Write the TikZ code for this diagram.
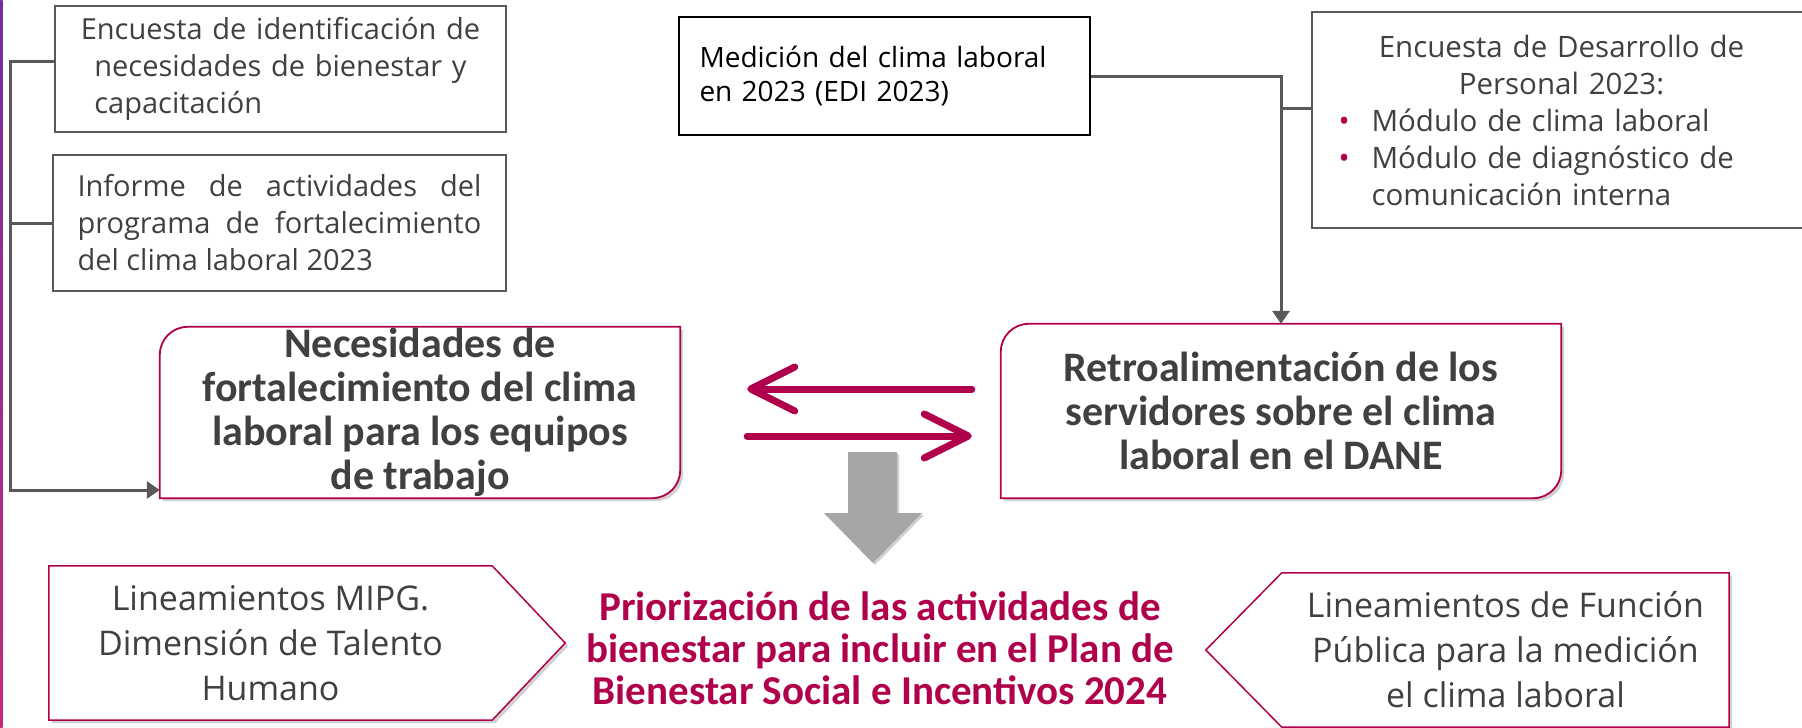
\documentclass[tikz,border=0pt]{standalone}
\usepackage{fontspec}
\usepackage{calc}
\setmainfont{Open Sans}
\newfontfamily\boldface{Carlito}
\usetikzlibrary{arrows.meta,backgrounds,shadows}
\definecolor{mag}{RGB}{176,0,76}
\definecolor{ink}{HTML}{404040}
\definecolor{wire}{HTML}{595959}
\definecolor{block}{HTML}{A6A6A6}
\definecolor{edgeviolet}{RGB}{112,48,160}
\definecolor{edgepink}{RGB}{200,40,120}
\tikzset{>/.tip={Triangle[length=13pt,width=17pt]}}

\begin{document}
\begin{tikzpicture}[x=1pt,y=-1pt,
  src/.style={draw=wire,line width=1.6pt,inner sep=0pt,text=ink,font=\fontsize{29pt}{37pt}\selectfont},
  need/.style={inner sep=0pt,text=ink,align=center,font=\boldface\bfseries\fontsize{42pt}{44pt}\selectfont},
  panel/.style={fill=white,draw=mag,line width=1.8pt,drop shadow={shadow xshift=3pt,shadow yshift=-3pt,opacity=.18,fill=black}},
  rule/.style={inner sep=0pt,text=ink,align=center,font=\fontsize{34pt}{45pt}\selectfont},
  conn/.style={draw=wire,line width=3pt},
  swap/.style={draw=mag,line width=7pt,line cap=round,-{Straight Barb[length=44pt,width=44pt,round]}}]
\useasboundingbox (0,0) rectangle (1802,728);
\clip (0,0) rectangle (1802,728);
\shade[top color=edgeviolet,bottom color=edgepink] (0,0) rectangle (2.5,728);

\node[src,minimum width=451pt,minimum height=126pt,text width=420pt,align=center] (enc) at (280.5,69)
  {Encuesta de identificación de\\necesidades de bienestar y\\\makebox[\widthof{necesidades de bienestar y}][l]{capacitación}};
\node[src,minimum width=453pt,minimum height=136pt,text width=404pt,align=justify] (inf) at (279.5,223)
  {Informe de actividades del\linebreak programa de fortalecimiento\linebreak del clima laboral 2023};
\node[src,draw=black,line width=2.5pt,text=black,minimum width=411pt,minimum height=118pt,text width=370pt,align=left,font=\fontsize{28pt}{34pt}\selectfont] (med) at (884.5,76)
  {Medición del clima laboral\\en 2023 (EDI 2023)\\[6pt]};
\node[src,draw=none,minimum width=497pt,minimum height=214pt,text width=470pt,align=left,font=\fontsize{29.5pt}{37pt}\selectfont] (dev) at (1561.5,120)
  {\makebox[\linewidth]{Encuesta de Desarrollo de}\\
   \makebox[\linewidth]{Personal 2023:}\\
   \hspace*{12pt}\makebox[33pt][l]{\textcolor{mag}{•}}Módulo de clima laboral\\
   \hspace*{12pt}\makebox[33pt][l]{\textcolor{mag}{•}}Módulo de diagnóstico de\\
   \hspace*{45pt}comunicación interna};
\draw[wire,line width=1.6pt] ([xshift=20pt]dev.north east) -- (dev.north west) -- (dev.south west) -- ([xshift=20pt]dev.south east);
\node[need,minimum width=520pt,minimum height=171pt] (nec) at (420,412.5)
  {Necesidades de\\fortalecimiento del clima\\laboral para los equipos\\de trabajo};
\node[need,minimum width=560pt,minimum height=174pt] (ret) at (1281,411)
  {Retroalimentación de los\\servidores sobre el clima\\laboral en el DANE};
\node[rule,minimum width=443pt,minimum height=154pt] (mipg) at (270.5,643)
  {Lineamientos MIPG.\\Dimensión de Talento\\Humano};
\node[rule,minimum width=447pt,minimum height=154pt] (fp) at (1505.5,650)
  {Lineamientos de Función\\Pública para la medición\\el clima laboral};
\node[need,text=mag,font=\boldface\bfseries\fontsize{41pt}{42pt}\selectfont] (prio) at (880,648)
  {Priorización de las actividades de\\bienestar para incluir en el Plan de\\Bienestar Social e Incentivos 2024};

\begin{scope}[on background layer]
\fill[white] (0,0) rectangle (1802,728);
\path[panel] (nec.south west) -- ([yshift=-28pt]nec.north west)
  .. controls ([yshift=-12.5pt]nec.north west) and ([xshift=12.5pt]nec.north west) .. ([xshift=28pt]nec.north west)
  -- (nec.north east) -- ([yshift=28pt]nec.south east)
  .. controls ([yshift=12.5pt]nec.south east) and ([xshift=-12.5pt]nec.south east) .. ([xshift=-28pt]nec.south east) -- cycle;
\path[panel] (ret.south west) -- ([yshift=-28pt]ret.north west)
  .. controls ([yshift=-12.5pt]ret.north west) and ([xshift=12.5pt]ret.north west) .. ([xshift=28pt]ret.north west)
  -- (ret.north east) -- ([yshift=28pt]ret.south east)
  .. controls ([yshift=12.5pt]ret.south east) and ([xshift=-12.5pt]ret.south east) .. ([xshift=-28pt]ret.south east) -- cycle;
\path[panel,line width=1.5pt] (mipg.north west) -- (mipg.north east) -- ([xshift=73pt]mipg.east) -- (mipg.south east) -- (mipg.south west) -- cycle;
\path[panel,line width=1.5pt] (fp.north east) -- (fp.north west) -- ([xshift=-76pt]fp.west) -- (fp.south west) -- (fp.south east) -- cycle;
\end{scope}

\coordinate (trunk) at (10,490);
\coordinate (split) at (1281,108);
\draw[conn,->] ([yshift=8pt]enc.west) -| (trunk) -- (trunk -| nec.west);
\draw[conn] (inf.west) -- (inf.west -| trunk);
\draw[conn,->] (med.east) -| (split) -- (ret.north);
\draw[conn] (dev.west |- split) -- (split);

\draw[swap] ([shift={(-29pt,22pt)}]ret.west) -- ([shift={(67pt,23.5pt)}]nec.east);
\draw[swap] ([shift={(67pt,-23.5pt)}]nec.east) -- ([shift={(-29pt,-25pt)}]ret.west);
\fill[block,drop shadow={shadow xshift=2pt,shadow yshift=-2pt,opacity=.18,fill=black}] (848,452) -- (897,452) -- (897,513) -- (922,513) -- (873,563) -- (824,513) -- (848,513) -- cycle;
\end{tikzpicture}
\end{document}
